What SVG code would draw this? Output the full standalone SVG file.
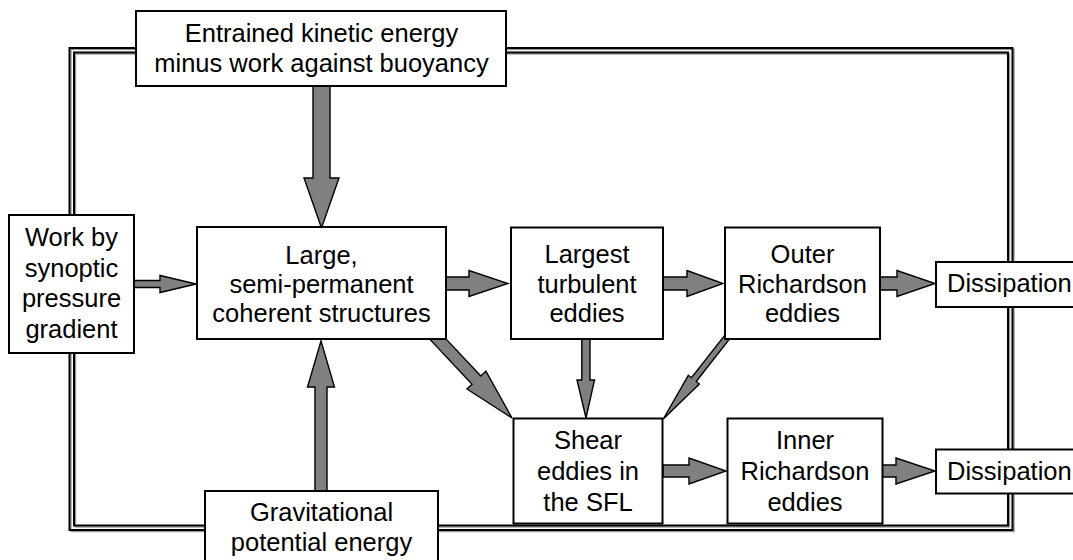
<svg xmlns="http://www.w3.org/2000/svg" width="1073" height="560" viewBox="0 0 1073 560">
<style>
.box{fill:#fff;stroke:#000;stroke-width:2}
.arr{fill:#808080;stroke:#000;stroke-width:1.4;stroke-linejoin:miter}
.fb{fill:none;stroke:#000;stroke-width:2}
.fg{fill:none;stroke:#9a9a9a;stroke-width:1.4}
text{font-family:"Liberation Sans",Arial,sans-serif;font-size:25.5px;fill:#000;text-anchor:middle}
</style>
<rect width="1073" height="560" fill="#fff"/>
<g id="frame">
<rect class="fg" x="71" y="49.5" width="943" height="482"/>
<rect class="fb" x="69.5" y="48" width="943" height="482"/>
<rect class="fg" x="75.5" y="54" width="934" height="473"/>
<rect class="fb" x="74" y="52.5" width="934" height="473"/>
</g>
<g id="connectors">
<polygon class="arr" points="313,86 330,86 330,178 339,178 321.5,228 304,178 313,178"/>
<polygon class="arr" points="315,491 315,387 307.5,387 321,341 334.5,387 327,387 327,491"/>
<polygon class="arr" points="134,280.5 160,280.5 160,275.5 196,284 160,292.5 160,287.5 134,287.5"/>
<polygon class="arr" points="446,277 469,277 469,270.5 508,283.5 469,296.5 469,290 446,290"/>
<polygon class="arr" points="663,277 687,277 687,270.5 723,283.5 687,296.5 687,290 663,290"/>
<polygon class="arr" points="880,277 897,277 897,270.5 935,283.5 897,296.5 897,290 880,290"/>
<polygon class="arr" points="663,465 689,465 689,458 726,471 689,484 689,477 663,477"/>
<polygon class="arr" points="882,465 896,465 896,458 935,471 896,484 896,477 882,477"/>
<polygon class="arr" points="581.8,339 590,339 590,380 594.5,380 586,418 577,380 581.8,380"/>
<polygon class="arr" points="430.63,340.11 472.04,384.2 466.93,388.99 512,418 485.89,371.19 480.78,375.98 439.37,331.89"/>
<polygon class="arr" points="725.64,334.15 691.47,377.78 688.32,375.31 663.3,419 699.34,383.95 696.19,381.48 730.36,337.85"/>
</g>
<g id="n-entrained">
<rect class="box" x="136" y="11" width="370" height="75"/>
<text x="321.5" y="42">Entrained kinetic energy</text>
<text x="321.5" y="72">minus work against buoyancy</text>
</g>
<g id="n-work">
<rect class="box" x="9" y="215" width="125" height="138"/>
<text x="71.5" y="246">Work by</text>
<text x="71.5" y="276.5">synoptic</text>
<text x="71.5" y="307">pressure</text>
<text x="71.5" y="337.5">gradient</text>
</g>
<g id="n-large">
<rect class="box" x="197" y="227" width="249" height="112"/>
<text x="321.5" y="264">Large,</text>
<text x="321.5" y="293">semi-permanent</text>
<text x="321.5" y="322">coherent structures</text>
</g>
<g id="n-largest">
<rect class="box" x="511" y="227.5" width="152" height="111.5"/>
<text x="587" y="263">Largest</text>
<text x="587" y="292.5">turbulent</text>
<text x="587" y="322">eddies</text>
</g>
<g id="n-outer">
<rect class="box" x="725" y="227.5" width="155" height="111.5"/>
<text x="802.5" y="263">Outer</text>
<text x="802.5" y="292.5">Richardson</text>
<text x="802.5" y="322">eddies</text>
</g>
<g id="n-diss1">
<rect class="box" x="936" y="262" width="150" height="45"/>
<text x="947" y="292" style="text-anchor:start">Dissipation</text>
</g>
<g id="n-shear">
<rect class="box" x="513.5" y="418.5" width="149" height="105"/>
<text x="588" y="449">Shear</text>
<text x="588" y="480">eddies in</text>
<text x="588" y="511">the SFL</text>
</g>
<g id="n-inner">
<rect class="box" x="727.5" y="418.5" width="155" height="105"/>
<text x="805" y="449">Inner</text>
<text x="805" y="480">Richardson</text>
<text x="805" y="511">eddies</text>
</g>
<g id="n-diss2">
<rect class="box" x="936" y="449.5" width="150" height="44"/>
<text x="947" y="479.5" style="text-anchor:start">Dissipation</text>
</g>
<g id="n-grav">
<rect class="box" x="205" y="491" width="233" height="80"/>
<text x="321.5" y="521">Gravitational</text>
<text x="321.5" y="551">potential energy</text>
</g>
</svg>
